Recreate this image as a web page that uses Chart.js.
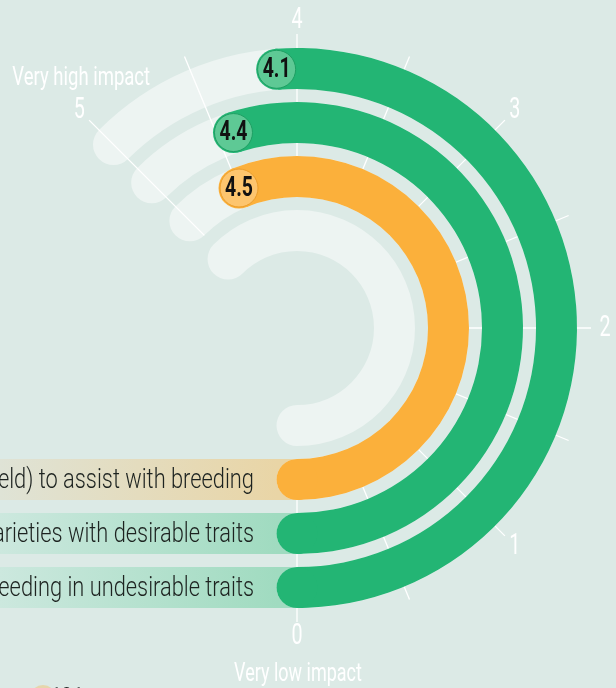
<!DOCTYPE html>
<html>
<head>
<meta charset="utf-8">
<script src="https://cdn.jsdelivr.net/npm/chart.js@4.4.1/dist/chart.umd.min.js"></script>
<style>
    html, body { margin: 0; padding: 0; background: #dceae6; }
    #wrap { width: 616px; height: 688px; position: relative; overflow: hidden; }
</style>
</head>
<body>
<div id="wrap"><canvas id="impact-chart" width="616" height="688"></canvas></div>
<script>
// rings from outside to inside
const categories = ['eeding in undesirable traits', 'arieties with desirable traits', 'eld) to assist with breeding'];
const scores = [4.1, 4.4, 4.5];
const ringColors = ['#23b574', '#23b574', '#fbb03b'];
const bubbleColors = ['#5ec995', '#5ec995', '#fdc56e'];
const bubbleLines = ['#1e9f63', '#1e9f63', '#eb9d2a'];
const boxColors = ['#a0dbc0', '#a0dbc0', '#e9d5a6'];
const tickValues = [0, 1, 2, 3, 4, 5];
const minorTicks = [0.5, 1.5, 2.5, 3.5, 4.5];
const scaleMax = 8;   // one full turn
const trackMax = 5;   // grey track runs 0 -> 5
const legendCount = '101';

const RING = 41, GAP = 13;
const TRACK = '#edf4f2';
const FONT = 'Roboto, "Liberation Sans", sans-serif';

// build one doughnut ring per category, with transparent spacer rings between
const datasets = [];
scores.forEach((v, i) => {
    datasets.push({
        label: categories[i],
        data: [scaleMax - v, v],
        backgroundColor: ['rgba(0,0,0,0)', ringColors[i]],
        weight: RING,
        ring: i
    });
    datasets.push({ data: [scaleMax], backgroundColor: ['rgba(0,0,0,0)'], weight: GAP });
});
// innermost track, no score drawn on it
datasets.push({ data: [scaleMax], backgroundColor: ['rgba(0,0,0,0)'], weight: RING, ring: -1 });

function angleAt(chart, v) {
    const start = (chart.options.rotation - 90) * Math.PI / 180;
    return start - v / scaleMax * Math.PI * 2;
}

function rings(chart) {
    const out = [];
    chart.data.datasets.forEach((ds, i) => {
        if (ds.ring === undefined) return;
        const arc = chart.getDatasetMeta(i).data[0];
        out.push({ idx: ds.ring, x: arc.x, y: arc.y, inner: arc.innerRadius, outer: arc.outerRadius });
    });
    return out;
}

function squeezeText(ctx, str, x, y, font, color, align, sx) {
    ctx.save();
    ctx.font = font;
    ctx.fillStyle = color;
    ctx.textAlign = align;
    ctx.textBaseline = 'middle';
    ctx.translate(x, y);
    ctx.scale(sx, 1);
    ctx.fillText(str, 0, 0);
    ctx.restore();
}

const decor = {
    id: 'decor',
    beforeDatasetsDraw(chart) {
        const ctx = chart.ctx;
        const rs = rings(chart);
        const cx = rs[0].x, cy = rs[0].y;

        // category boxes at the bottom left
        rs.forEach(r => {
            if (r.idx < 0) return;
            const y0 = cy + r.inner, y1 = cy + r.outer;
            const g = ctx.createLinearGradient(0, 0, cx - 20, 0);
            g.addColorStop(0, r.idx === 2 ? '#dfe3d6' : '#cce8de');
            g.addColorStop(1, boxColors[r.idx]);
            ctx.fillStyle = g;
            ctx.fillRect(0, y0, cx, y1 - y0);
            squeezeText(ctx, categories[r.idx], cx - 43, (y0 + y1) / 2 + 1,
                '300 28px ' + FONT, '#1d2320', 'right', 0.78);
        });

        // grey tracks
        rs.forEach(r => {
            ctx.save();
            ctx.beginPath();
            ctx.arc(r.x, r.y, (r.inner + r.outer) / 2, angleAt(chart, trackMax), angleAt(chart, 0));
            ctx.lineWidth = r.outer - r.inner;
            ctx.lineCap = 'round';
            ctx.strokeStyle = TRACK;
            ctx.stroke();
            ctx.restore();
        });

        // radial tick lines
        const rIn = rs[2].inner, rOut = rs[0].outer + 14;
        ctx.save();
        ctx.strokeStyle = '#ffffff';
        ctx.lineWidth = 1.3;
        tickValues.concat(minorTicks).forEach(v => {
            const a = angleAt(chart, v);
            ctx.beginPath();
            ctx.moveTo(cx + rIn * Math.cos(a), cy + rIn * Math.sin(a));
            ctx.lineTo(cx + rOut * Math.cos(a), cy + rOut * Math.sin(a));
            ctx.stroke();
        });
        ctx.restore();
    },
    afterDatasetsDraw(chart) {
        const ctx = chart.ctx;
        const rs = rings(chart);
        const cx = rs[0].x, cy = rs[0].y;

        rs.forEach(r => {
            if (r.idx < 0) return;
            const rm = (r.inner + r.outer) / 2, half = (r.outer - r.inner) / 2;
            // round cap at zero
            const a0 = angleAt(chart, 0);
            ctx.fillStyle = ringColors[r.idx];
            ctx.beginPath();
            ctx.arc(cx + rm * Math.cos(a0), cy + rm * Math.sin(a0), half, 0, Math.PI * 2);
            ctx.fill();
            // bubble at the score
            const a = angleAt(chart, scores[r.idx]);
            const bx = cx + rm * Math.cos(a), by = cy + rm * Math.sin(a);
            ctx.beginPath();
            ctx.arc(bx, by, half, 0, Math.PI * 2);
            ctx.fill();
            ctx.beginPath();
            ctx.arc(bx, by, half - 1.5, 0, Math.PI * 2);
            ctx.fillStyle = bubbleColors[r.idx];
            ctx.fill();
            ctx.lineWidth = 1;
            ctx.strokeStyle = bubbleLines[r.idx];
            ctx.stroke();
            squeezeText(ctx, scores[r.idx].toFixed(1), bx, by + 1, 'bold 27px ' + FONT, '#111111', 'center', 0.72);
        });

        // tick labels
        const rLab = rs[0].outer + 28;
        tickValues.forEach(v => {
            const a = angleAt(chart, v);
            squeezeText(ctx, String(v), cx + rLab * Math.cos(a), cy + rLab * Math.sin(a) + 1,
                '400 29px ' + FONT, '#ffffff', 'center', 0.68);
        });
        const aHi = angleAt(chart, 5), a0 = angleAt(chart, 0);
        squeezeText(ctx, 'Very high impact', cx + rLab * Math.cos(aHi) + 2, cy + rLab * Math.sin(aHi) - 31,
            '400 25px ' + FONT, '#ffffff', 'center', 0.74);
        squeezeText(ctx, 'Very low impact', cx + rLab * Math.cos(a0) + 1, cy + rLab * Math.sin(a0) + 39,
            '400 25px ' + FONT, '#ffffff', 'center', 0.72);

        // start of the legend, cut by the bottom edge
        ctx.fillStyle = '#e6d6ac';
        ctx.beginPath();
        ctx.arc(43, 698, 13, 0, Math.PI * 2);
        ctx.fill();
        squeezeText(ctx, legendCount, 50, 698, 'bold 24px ' + FONT, '#1d2320', 'left', 0.8);
    }
};

new Chart(document.getElementById('impact-chart'), {
    type: 'doughnut',
    data: { labels: ['rest', 'score'], datasets: datasets },
    options: {
        responsive: false,
        animation: false,
        events: [],
        rotation: 180,
        circumference: 360,
        radius: 280,
        cutout: '27.5%',
        layout: { padding: { left: 0, right: 22, top: 0, bottom: 32 } },
        elements: { arc: { borderWidth: 0 } },
        plugins: { legend: { display: false }, tooltip: { enabled: false } }
    },
    plugins: [decor]
});
</script>
</body>
</html>
